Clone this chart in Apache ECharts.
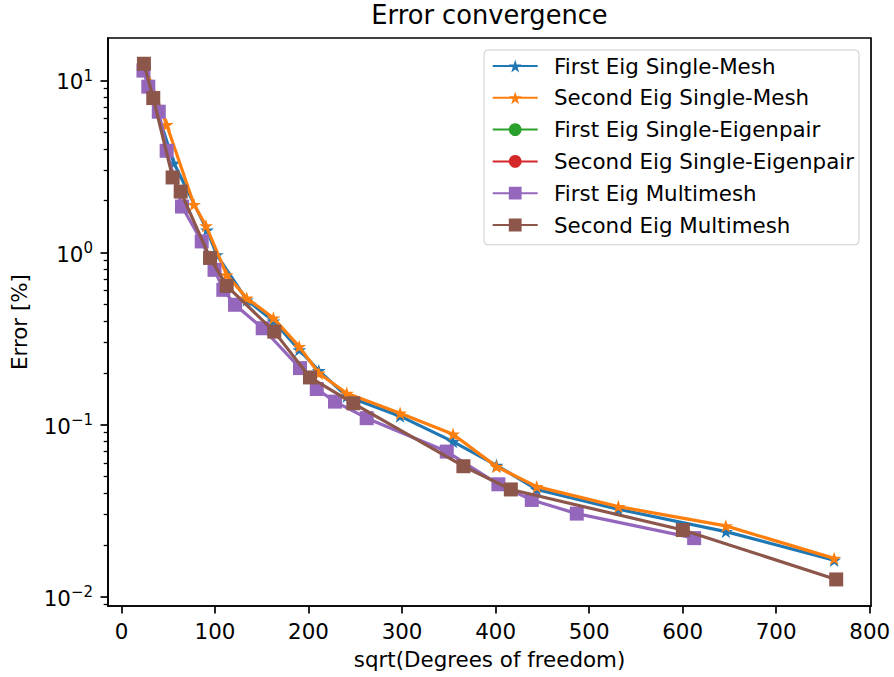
<!DOCTYPE html>
<html><head><meta charset="utf-8">
<script src="https://cdn.jsdelivr.net/npm/echarts@6/dist/echarts.min.js"></script>
<style>html,body{margin:0;padding:0;background:#fff}#c{width:894px;height:677px}</style>
</head><body><div id="c"></div>
<script>
// ---- data ----
const seriesNames = ['First Eig Single-Mesh','Second Eig Single-Mesh','First Eig Single-Eigenpair','Second Eig Single-Eigenpair','First Eig Multimesh','Second Eig Multimesh'];
const firstSingleMeshX  = [24, 56, 91.5, 101.8, 133.9, 162.4, 190.1, 211, 240.9, 297.9, 354.5, 401, 444, 531.3, 646.2, 762];
const firstSingleMeshY  = [11.4, 3.31, 1.35, 0.97, 0.53, 0.40, 0.272, 0.206, 0.146, 0.112, 0.0796, 0.058, 0.042, 0.0322, 0.0239, 0.0163];
const secondSingleMeshX = [24, 48.3, 77.5, 90.4, 112.5, 133.9, 162.4, 190.1, 211, 240.9, 297.9, 354.5, 401, 444, 531.3, 646.2, 762];
const secondSingleMeshY = [12.5, 5.53, 1.9, 1.43, 0.742, 0.543, 0.416, 0.284, 0.199, 0.152, 0.1165, 0.088, 0.057, 0.0436, 0.0334, 0.0258, 0.0167];
const firstEigenpairX = [];
const firstEigenpairY = [];
const secondEigenpairX = [];
const secondEigenpairY = [];
const firstMultimeshX = [23.5, 28.7, 39.9, 48.3, 64.7, 85.8, 99.5, 108.9, 121.4, 151, 190.9, 208.8, 228.3, 262.2, 347.8, 403, 438.7, 486.8, 612.3];
const firstMultimeshY = [11.4, 9.2, 6.58, 3.9, 1.85, 1.16, 0.793, 0.607, 0.497, 0.363, 0.213, 0.161, 0.136, 0.109, 0.0697, 0.045, 0.0365, 0.0304, 0.0219];
const secondMultimeshX = [24, 34, 54.7, 63.3, 94.7, 112.5, 163.4, 201.6, 247.9, 365.6, 416.3, 600.2, 764.2];
const secondMultimeshY = [12.5, 7.9, 2.73, 2.26, 0.93, 0.64, 0.347, 0.188, 0.133, 0.0573, 0.042, 0.0244, 0.0126];
const xTicks = [0, 100, 200, 300, 400, 500, 600, 700, 800];
const yMajorTicks = [0.01, 0.1, 1, 10];
const yMinorTicks = [0.009, 0.02, 0.03, 0.04, 0.05, 0.06, 0.07, 0.08, 0.09, 0.2, 0.3, 0.4, 0.5, 0.6, 0.7, 0.8, 0.9, 2, 3, 4, 5, 6, 7, 8, 9];

// ---- styling ----
const FONT = 'DejaVu Sans';
const colors = ['#1f77b4', '#ff7f0e', '#2ca02c', '#d62728', '#9467bd', '#8c564b'];
const STAR = 'path://M0,-1L0.2245,-0.309L0.951,-0.309L0.363,0.118L0.588,0.809L0,0.382L-0.588,0.809L-0.363,0.118L-0.951,-0.309L-0.2245,-0.309Z';
const symbols = [STAR, STAR, 'circle', 'circle', 'rect', 'rect'];
const symbolSizes = [[14, 13.4], [14, 13.4], 13, 13, 14, 14];
const xs = [firstSingleMeshX, secondSingleMeshX, firstEigenpairX, secondEigenpairX, firstMultimeshX, secondMultimeshX];
const ys = [firstSingleMeshY, secondSingleMeshY, firstEigenpairY, secondEigenpairY, firstMultimeshY, secondMultimeshY];

const yMin = Math.pow(10, -2.054), yMax = Math.pow(10, 1.2465);

function supLabel(v) {
  const e = Math.round(Math.log10(v));
  const s = e < 0 ? '\u2212' + (-e) : '' + e;
  return '{b|10}{s|' + s + '}';
}

const series = seriesNames.map((name, i) => ({
  name: name,
  type: 'line',
  data: xs[i].map((x, k) => [x, ys[i][k]]),
  symbol: symbols[i],
  symbolSize: symbolSizes[i],
  showAllSymbol: true,
  lineStyle: { color: colors[i], width: 3.2 },
  itemStyle: { color: colors[i], borderWidth: 0 },
  z: 2 + i,
  emphasis: { disabled: true },
  animation: false
}));

const chart = echarts.init(document.getElementById('c'), null, { renderer: 'svg' });
chart.setOption({
  animation: false,
  backgroundColor: '#fff',
  title: {
    text: 'Error convergence',
    left: 489.5, top: 2, padding: 0, textAlign: 'center',
    textStyle: { fontFamily: FONT, fontSize: 25.7, fontWeight: 'normal', color: '#000' }
  },
  legend: {
    data: seriesNames,
    orient: 'vertical',
    left: 484, top: 50,
    padding: [5.5, 5, 9.3, 7.7],
    itemWidth: 45, itemHeight: 16, itemGap: 10.8,
    backgroundColor: 'rgba(255,255,255,0.8)',
    borderColor: '#cccccc', borderWidth: 1, borderRadius: 4,
    selectedMode: false,
    textStyle: { fontFamily: FONT, fontSize: 21.4, color: '#000', padding: [0, 0, 0, 11.3] },
    z: 20
  },
  grid: {
    left: 108, right: 23, top: 38, bottom: 71,
    show: true, borderColor: '#000', borderWidth: 1.7, backgroundColor: 'transparent',
    outerBoundsMode: 'none', containLabel: false
  },
  xAxis: {
    type: 'value', min: -14.4, max: 801.4,
    name: 'sqrt(Degrees of freedom)', nameLocation: 'middle', nameGap: 43,
    nameTextStyle: { fontFamily: FONT, fontSize: 21.4, color: '#000' },
    axisLine: { show: true, onZero: false, lineStyle: { color: '#000', width: 1.7 } },
    axisTick: { show: true, length: 7.5, lineStyle: { color: '#000', width: 1.7 }, customValues: xTicks },
    axisLabel: { show: true, margin: 15, fontFamily: FONT, fontSize: 21.4, color: '#000', customValues: xTicks },
    splitLine: { show: false }
  },
  yAxis: [{
    type: 'log', logBase: 10, min: yMin, max: yMax,
    name: 'Error [%]', nameLocation: 'middle', nameGap: 78, nameRotate: 90,
    nameTextStyle: { fontFamily: FONT, fontSize: 21.4, color: '#000' },
    axisLine: { show: true, onZero: false, lineStyle: { color: '#000', width: 1.7 } },
    axisTick: { show: true, length: 7.5, lineStyle: { color: '#000', width: 1.7 }, customValues: yMajorTicks },
    axisLabel: {
      show: true, margin: 15, customValues: yMajorTicks,
      formatter: supLabel,
      rich: {
        b: { fontFamily: FONT, fontSize: 21.4, color: '#000', verticalAlign: 'bottom' },
        s: { fontFamily: FONT, fontSize: 15, color: '#000', verticalAlign: 'bottom', padding: [0, 0, 9, 0] }
      }
    },
    splitLine: { show: false }
  }, {
    type: 'log', logBase: 10, min: yMin, max: yMax, position: 'left',
    axisLine: { show: false, onZero: false },
    axisTick: { show: true, length: 4.3, lineStyle: { color: '#000', width: 1.3 }, customValues: yMinorTicks },
    axisLabel: { show: false },
    splitLine: { show: false }
  }],
  series: series
});
</script>
</body></html>
